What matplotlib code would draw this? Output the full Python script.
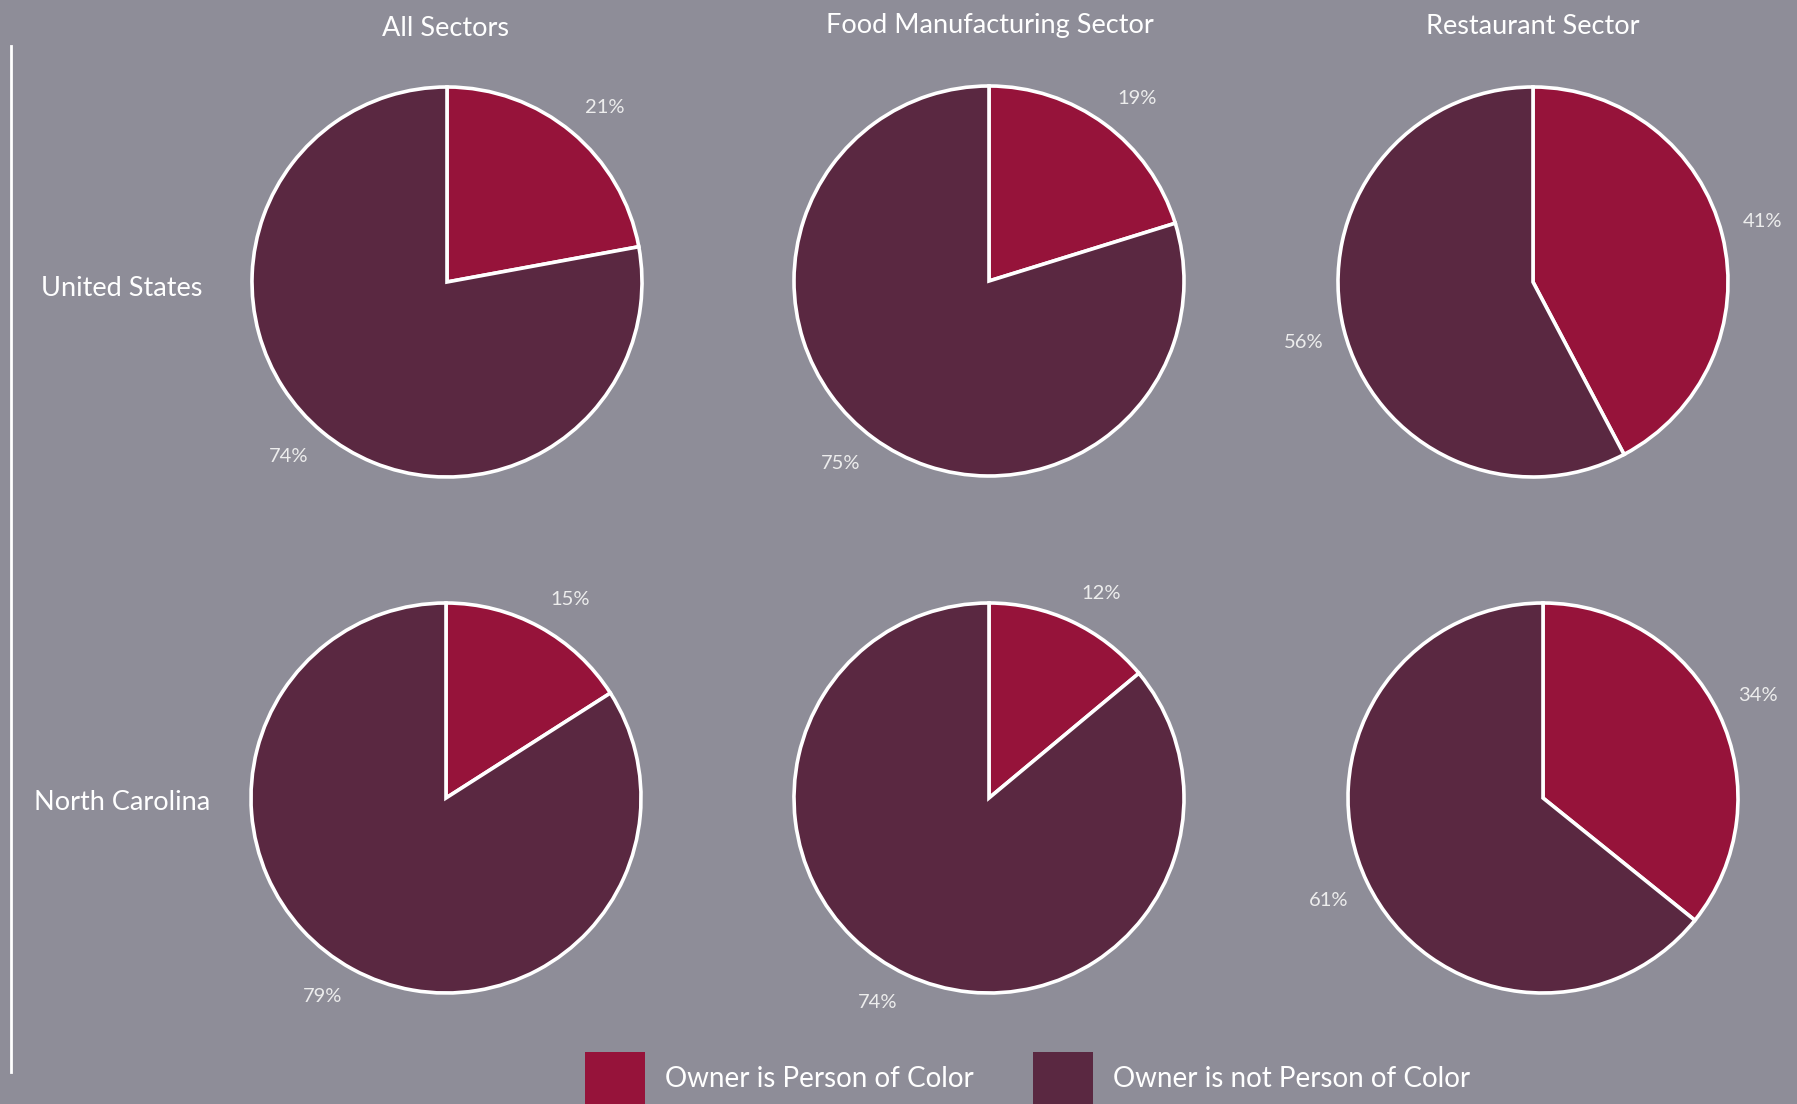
import numpy as np
import matplotlib.pyplot as plt
from matplotlib.patches import Rectangle
from matplotlib.lines import Line2D

# Share of firms by owner race, per sector
sectors = ["All Sectors", "Food Manufacturing Sector", "Restaurant Sector"]
regions = ["United States", "North Carolina"]
poc = [[21, 19, 41], [15, 12, 34]]
not_poc = [[74, 75, 56], [79, 74, 61]]
legend_labels = ["Owner is Person of Color", "Owner is not Person of Color"]

red = "#96133A"
plum = "#5A2841"
bg = "#8E8D98"

W, H = 1797, 1104
fig = plt.figure(figsize=(W / 100, H / 100), dpi=100, facecolor=bg)
plt.rcParams["font.family"] = ["Lato", "DejaVu Sans"]

# pie centres in pixels
centers = [[(447, 282), (989, 281), (1533, 282)],
           [(446, 798), (989, 798), (1543, 798)]]
r = 195
lim = 1.3
gap, half_w, half_h = 21 / r, 20 / r, 9 / r  # label offsets in radius units

for i in range(2):
    for j in range(3):
        cx, cy = centers[i][j]
        size = 2 * lim * r
        ax = fig.add_axes([(cx - size / 2) / W, 1 - (cy + size / 2) / H, size / W, size / H])
        vals = [poc[i][j], not_poc[i][j]]
        wedges, _ = ax.pie(vals, colors=[red, plum], startangle=90, counterclock=False,
                           wedgeprops=dict(edgecolor="white", linewidth=2.6))
        # value labels just outside each slice
        for w, v in zip(wedges, vals):
            mid = np.deg2rad((w.theta1 + w.theta2) / 2)
            ux, uy = np.cos(mid), np.sin(mid)
            x = (1 + gap) * ux + half_w * np.sign(ux)
            y = (1 + gap) * uy + half_h * np.sign(uy)
            ax.text(x, y, f"{v}%", ha="center", va="center", color="#EDEDED", fontsize=14.5)
        ax.set_xlim(-lim, lim)
        ax.set_ylim(-lim, lim)
        ax.set_aspect("equal")
        ax.axis("off")

# column titles
title_pos = [(446, 29), (990, 25), (1533, 26)]
for name, (x, y) in zip(sectors, title_pos):
    fig.text(x / W, 1 - y / H, name, ha="center", va="center", color="white",
             fontsize=19.5)

# row labels
for name, y in zip(regions, [289, 803]):
    fig.text(122 / W, 1 - y / H, name, ha="center", va="center", color="white",
             fontsize=19.5)

# left divider
fig.add_artist(Line2D([11 / W, 11 / W], [1 - 46 / H, 1 - 1072 / H], color="white", linewidth=2))

# legend
for lab, col, x0, tx in zip(legend_labels, [red, plum], [585, 1033], [665, 1113]):
    fig.add_artist(Rectangle((x0 / W, 0), 60 / W, 52 / H, transform=fig.transFigure,
                             facecolor=col, edgecolor="none"))
    fig.text(tx / W, 1 - 1079 / H, lab, ha="left", va="center", color="white",
             fontsize=20)

fig.savefig("out.png", dpi=100, facecolor=bg)
